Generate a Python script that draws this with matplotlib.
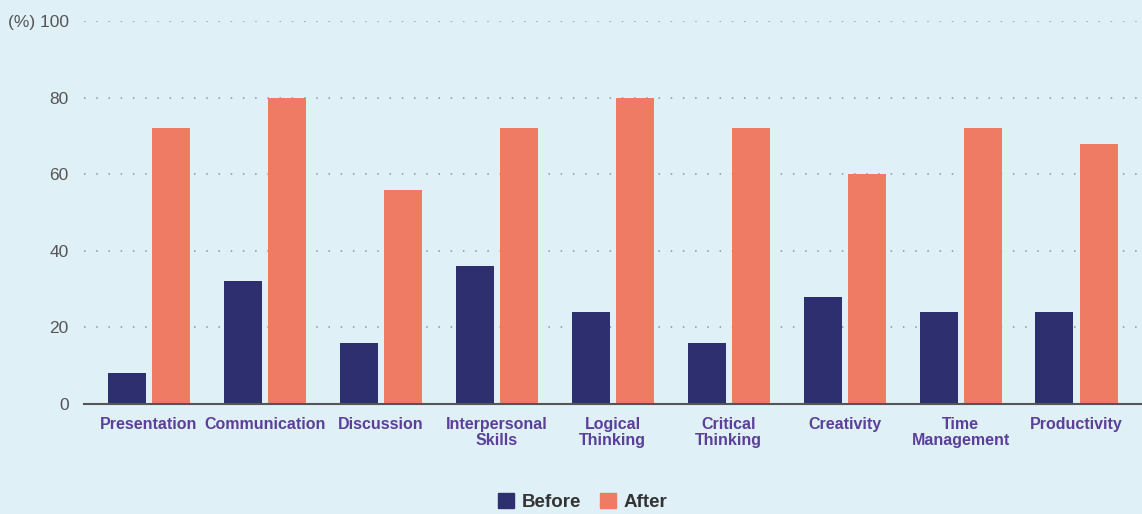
import numpy as np
import matplotlib.pyplot as plt
from matplotlib.patches import Patch

categories = ['Presentation', 'Communication', 'Discussion', 'Interpersonal\nSkills',
              'Logical\nThinking', 'Critical\nThinking', 'Creativity', 'Time\nManagement',
              'Productivity']
before = [8, 32, 16, 36, 24, 16, 28, 24, 24]
after = [72, 80, 56, 72, 80, 72, 60, 72, 68]
yticks = [0, 20, 40, 60, 80, 100]
ytick_labels = ['0', '20', '40', '60', '80', '(%) 100']

bg = '#DFF0F7'
navy = '#2E2F6E'
salmon = '#EF7B65'

plt.rcParams['font.family'] = ['Liberation Sans', 'DejaVu Sans']

fig = plt.figure(figsize=(11.42, 5.14), dpi=100, facecolor=bg)
ax = fig.add_axes([0.0736, 0.214, 0.9264, 0.745], facecolor=bg)

x = np.arange(len(categories))
w = 0.328
ax.bar(x - 0.19, before, width=w, color=navy, zorder=3)
ax.bar(x + 0.19, after, width=w, color=salmon, zorder=3)

ax.set_xlim(-0.56, 8.565)
ax.set_ylim(0, 100)
ax.set_yticks(yticks)
ax.set_yticklabels(ytick_labels, color='#555555', fontsize=12.5)
ax.set_xticks(x)
ax.set_xticklabels(categories, color='#5B3F99', fontsize=11.5, fontweight='bold', linespacing=1.15)
ax.tick_params(axis='both', length=0)
ax.tick_params(axis='x', pad=9)
ax.tick_params(axis='y', pad=11)

for y in yticks[1:]:
    ax.axhline(y, color='#8A9499', linestyle=(0, (1, 7)), linewidth=1.1, zorder=1)

for s in ['top', 'right', 'left']:
    ax.spines[s].set_visible(False)
ax.spines['bottom'].set_color('#555555')
ax.spines['bottom'].set_linewidth(1.5)
ax.spines['bottom'].set_zorder(4)

handles = [Patch(color=navy, label='Before'), Patch(color=salmon, label='After')]
fig.legend(handles=handles, loc='center', bbox_to_anchor=(0.51, 0.024), ncol=2, frameon=False,
           prop={'weight': 'bold', 'size': 13.5}, labelcolor='#333333',
           handlelength=0.85, handleheight=0.85, handletextpad=0.4, columnspacing=1.0)

fig.savefig('out.png', dpi=100, facecolor=bg)
